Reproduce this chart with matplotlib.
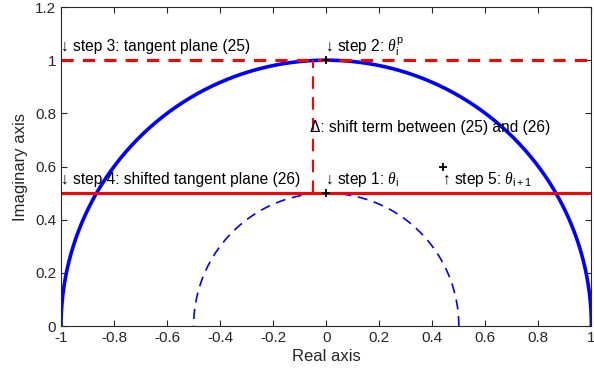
import numpy as np
import matplotlib
matplotlib.use("Agg")
import matplotlib.pyplot as plt

plt.rcParams['font.family'] = ['Liberation Sans', 'DejaVu Sans']
plt.rcParams['mathtext.fontset'] = 'custom'
plt.rcParams['mathtext.rm'] = 'Liberation Sans'
plt.rcParams['mathtext.it'] = 'Liberation Serif:italic'

# data
outer_radius = 1.0
inner_radius = 0.5
tangent_y = 1.0
shifted_y = 0.5
shift_x = -0.05
points_x = [0.0, 0.0, 0.44]
points_y = [1.0, 0.5, 0.6]
xticks = [-1, -0.8, -0.6, -0.4, -0.2, 0, 0.2, 0.4, 0.6, 0.8, 1]
yticks = [0, 0.2, 0.4, 0.6, 0.8, 1, 1.2]

fig = plt.figure(figsize=(5.94, 3.79), dpi=100)
ax = fig.add_axes([0.1027, 0.1398, 0.8930, 0.8417])

t = np.linspace(0, np.pi, 400)
ax.plot(outer_radius*np.cos(t), outer_radius*np.sin(t), color='#0000ff', lw=2.6)
ax.plot(inner_radius*np.cos(t), inner_radius*np.sin(t), color='#0000ff', lw=1.2,
        dashes=(6, 4))
ax.plot([-1, 1], [tangent_y, tangent_y], color='#ff0000', lw=2.2, dashes=(4, 3))
ax.plot([-1, 1], [shifted_y, shifted_y], color='#ff0000', lw=2.2)
ax.plot([shift_x, shift_x], [shifted_y, tangent_y], color='#ff0000', lw=1.5, dashes=(6, 4))
ax.plot(points_x, points_y, linestyle='none', marker='+', color='black', ms=6, mew=1.3)

fs = 11.2
ax.text(-1, 1.05, '\u2193 step 3: tangent plane (25)', fontsize=fs, va='center', ha='left')
ax.text(-0.005, 1.05, '\u2193 step 2: $\\theta_{\\rm i}^{\\rm p}$', fontsize=fs, va='center', ha='left')
ax.text(shift_x - 0.01, 0.745, '\u0394: shift term between (25) and (26)', fontsize=fs, va='center', ha='left')
ax.text(-1, 0.55, '\u2193 step 4: shifted tangent plane (26)', fontsize=fs, va='center', ha='left')
ax.text(-0.005, 0.55, '\u2193 step 1: $\\theta_{\\rm i}$', fontsize=fs, va='center', ha='left')
ax.text(0.435, 0.55, '\u2191 step 5: $\\theta_{\\rm i+1}$', fontsize=fs, va='center', ha='left')

ax.set_xlim(-1, 1)
ax.set_ylim(0, 1.2)
ax.set_xticks(xticks)
ax.set_xticklabels([f'{v:g}' for v in xticks])
ax.set_yticks(yticks)
ax.set_yticklabels([f'{v:g}' for v in yticks])
ax.tick_params(direction='in', length=4, colors='#262626', labelsize=11, top=True, right=True,
               labeltop=False, labelright=False)
for s in ax.spines.values():
    s.set_color('#262626')
    s.set_linewidth(0.8)
ax.set_xlabel('Real axis', fontsize=12, color='#262626', labelpad=3)
ax.set_ylabel('Imaginary axis', fontsize=12, color='#262626', labelpad=5)

fig.savefig('out.png', dpi=100)
